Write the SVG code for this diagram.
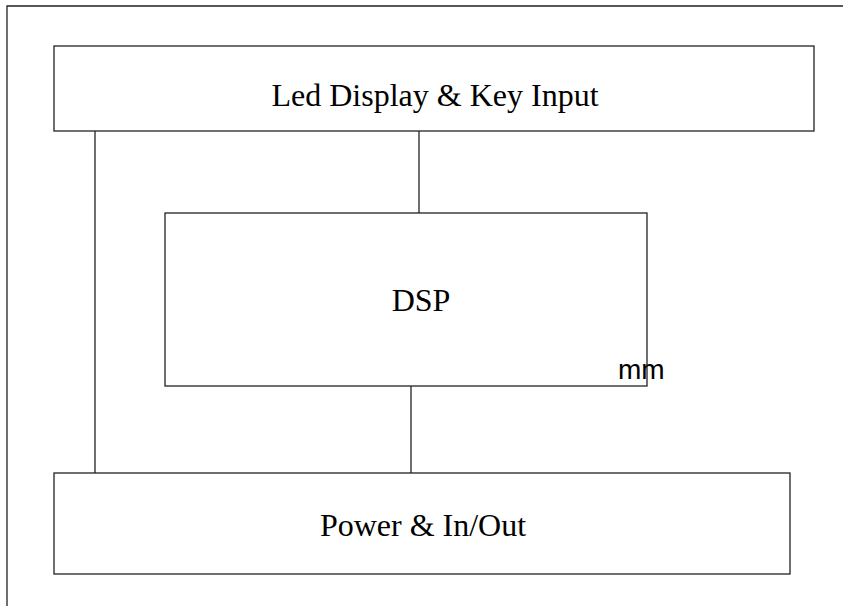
<svg xmlns="http://www.w3.org/2000/svg" width="843" height="606" viewBox="0 0 843 606">
<style>
.box{fill:#fff;stroke:#222;stroke-width:1.3}
.ln{stroke:#222;stroke-width:1.3;fill:none}
.t{font-family:"Liberation Serif",serif;font-size:32px;fill:#000;text-anchor:middle}
.s{font-family:"Liberation Sans",sans-serif;font-size:28px;fill:#000}
</style>
<rect width="843" height="606" fill="#fff"/>
<path class="ln" d="M7,606 V6 H843"/>
<g id="connectors">
<line class="ln" x1="95" y1="131" x2="95" y2="473"/>
<line class="ln" x1="419" y1="131" x2="419" y2="213"/>
<line class="ln" x1="411" y1="386" x2="411" y2="473"/>
</g>
<g id="led">
<rect class="box" x="54" y="46" width="760" height="85"/>
<text class="t" x="435" y="106">Led Display &amp; Key Input</text>
</g>
<g id="dsp">
<rect class="box" x="165" y="213" width="482" height="173"/>
<text class="t" x="421" y="311">DSP</text>
</g>
<g id="power">
<rect class="box" x="54" y="473" width="736" height="101"/>
<text class="t" x="423" y="536">Power &amp; In/Out</text>
</g>
<text class="s" x="618" y="379">mm</text>
</svg>
